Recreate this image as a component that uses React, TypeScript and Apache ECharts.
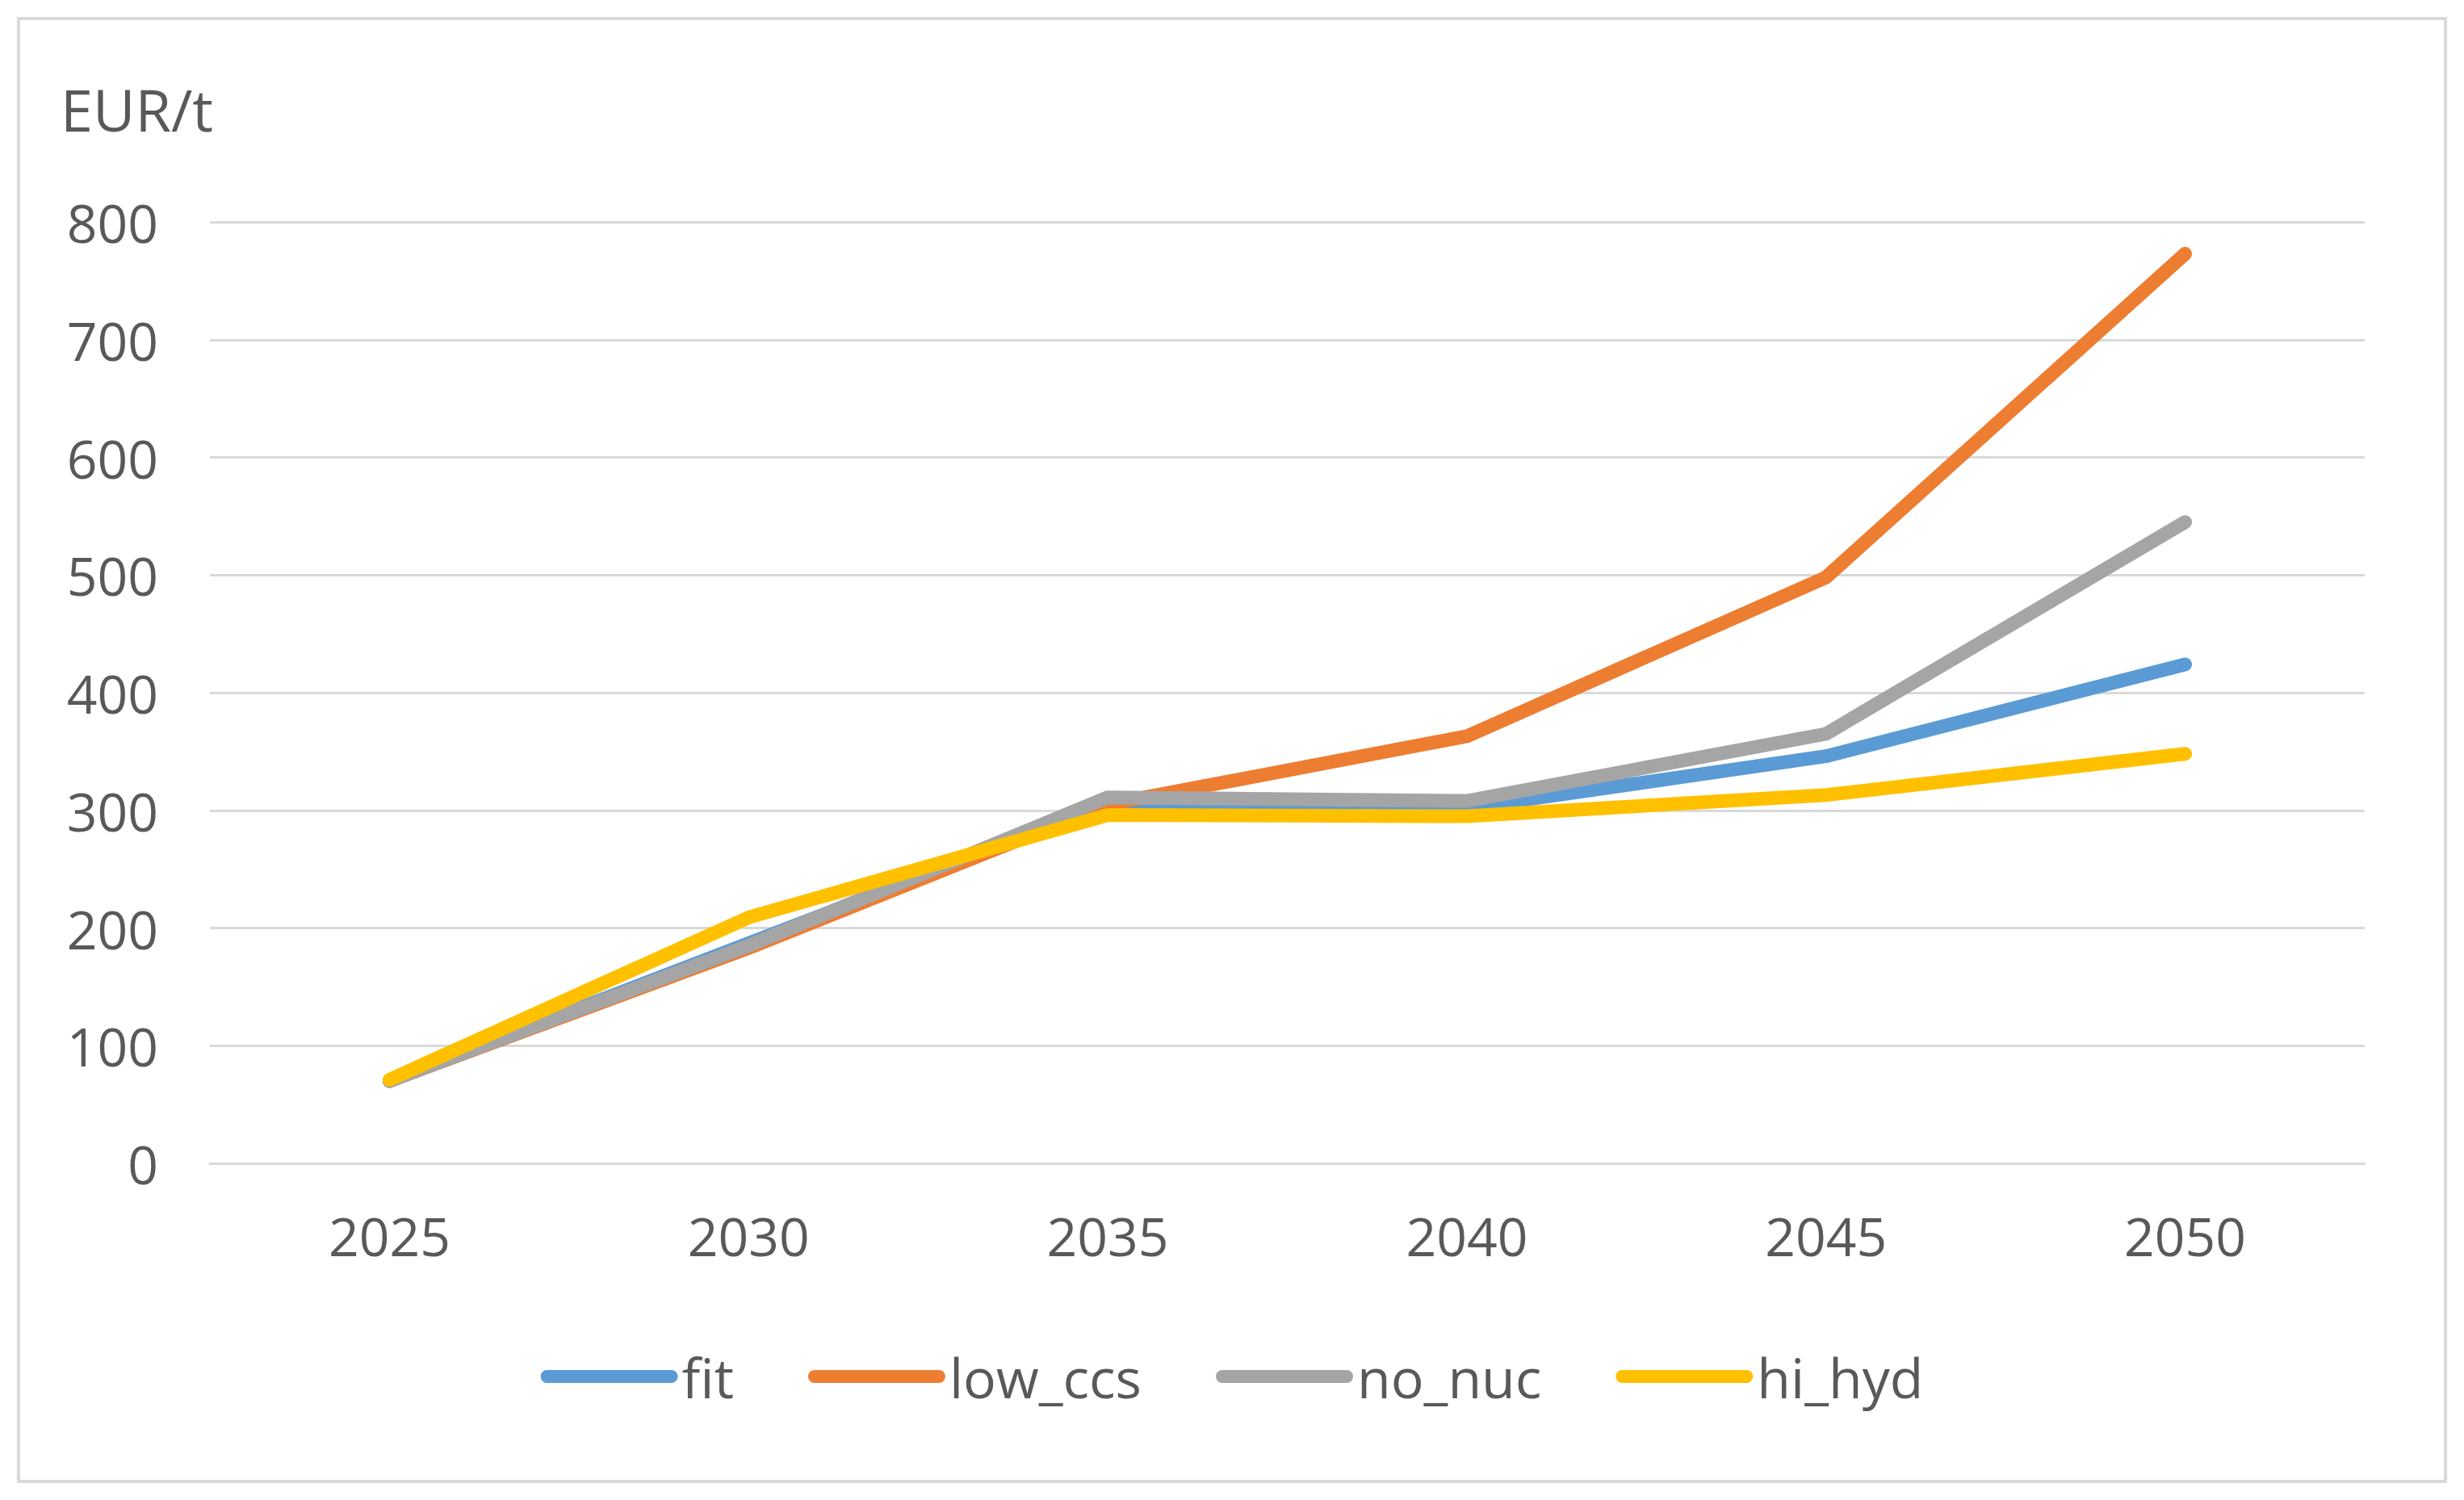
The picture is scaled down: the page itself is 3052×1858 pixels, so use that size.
import React, { useEffect, useRef } from "react";
import * as echarts from "echarts";

const years = ["2025", "2030", "2035", "2040", "2045", "2050"];
const fit = [70, 187, 304, 302, 346, 424];
const lowCcs = [70, 183, 305, 363, 498, 773];
const noNuc = [70, 185, 311, 308, 365, 545];
const hiHyd = [71, 209, 296, 295, 313, 348];
const seriesNames = ["fit", "low_ccs", "no_nuc", "hi_hyd"];
const seriesColors = ["#5B9BD5", "#ED7D31", "#A5A5A5", "#FFC000"];
const unitLabel = "EUR/t";

const FONT = "'Open Sans', 'Liberation Sans', sans-serif";
const TEXT_COLOR = "#595959";
const GRID_COLOR = "#D9D9D9";

export default function App() {
  const ref = useRef<HTMLDivElement>(null);
  useEffect(() => {
    if (!ref.current) return;
    const chart = echarts.init(ref.current, undefined, { renderer: "svg" });
    const values = [fit, lowCcs, noNuc, hiHyd];
    const legendIcon = "path://M8,0 L162,0 A8,8 0 0 1 162,16 L8,16 A8,8 0 0 1 8,0 Z";
    chart.setOption({
      animation: false,
      backgroundColor: "#FFFFFF",
      textStyle: { fontFamily: FONT },
      title: {
        text: unitLabel,
        left: 70,
        top: 94,
        textStyle: { fontFamily: FONT, fontSize: 72, fontWeight: "normal", color: TEXT_COLOR },
      },
      graphic: [
        {
          type: "rect",
          shape: { x: 23, y: 23, width: 3006, height: 1812 },
          style: { fill: "none", stroke: "#D9D9D9", lineWidth: 4 },
          silent: true,
        },
      ],
      grid: { left: 260, right: 123, top: 275, bottom: 417, containLabel: false },
      legend: {
        left: "center",
        top: 1666,
        itemWidth: 170,
        itemHeight: 16,
        itemGap: 92,
        icon: legendIcon,
        textStyle: { fontFamily: FONT, fontSize: 68, color: TEXT_COLOR },
        data: seriesNames,
      },
      xAxis: {
        type: "category",
        data: years,
        boundaryGap: true,
        axisLine: { show: true, lineStyle: { color: GRID_COLOR, width: 3 } },
        axisTick: { show: false },
        axisLabel: { fontFamily: FONT, fontSize: 66, color: TEXT_COLOR, margin: 56 },
      },
      yAxis: {
        type: "value",
        min: 0,
        max: 800,
        interval: 100,
        axisLine: { show: false },
        axisTick: { show: false },
        axisLabel: { fontFamily: FONT, fontSize: 66, color: TEXT_COLOR, margin: 64 },
        splitLine: { show: true, lineStyle: { color: GRID_COLOR, width: 3 } },
      },
      series: seriesNames.map((name, i) => ({
        name,
        type: "line",
        data: values[i],
        showSymbol: false,
        symbol: "none",
        color: seriesColors[i],
        lineStyle: { color: seriesColors[i], width: 17, cap: "round", join: "round" },
        itemStyle: { color: seriesColors[i] },
      })),
    });
    return () => chart.dispose();
  }, []);
  return (
    <div
      ref={ref}
      style={{ position: "fixed", left: 0, top: 0, width: 3052, height: 1858 }}
    />
  );
}
